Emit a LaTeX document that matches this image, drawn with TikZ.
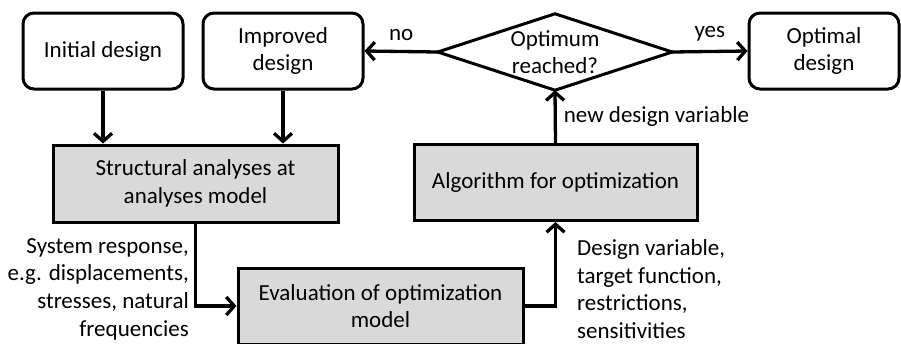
\documentclass[tikz,border=0pt]{standalone}
\usepackage{fontspec}
\setmainfont{Carlito}
\usetikzlibrary{arrows.meta}
\definecolor{boxgray}{HTML}{D9D9D9}
\begin{document}
\begin{tikzpicture}[x=1pt,y=-1pt,
  every node/.style={font=\fontsize{23}{27.7}\selectfont, align=center, inner sep=0pt},
  roundbox/.style={draw, line width=3pt, rounded corners=11pt, fill=white},
  graybox/.style={draw, line width=3pt, fill=boxgray},
  arr/.style={line width=3.3pt, -{Straight Barb[length=8pt,width=18pt]}},
  conn/.style={line width=3pt}
]
\useasboundingbox (0,0) rectangle (901,343);

\node[roundbox, minimum width=160, minimum height=76] (init) at (103,51) {Initial design};
\node[roundbox, minimum width=160, minimum height=76] (impr) at (283,51) {Improved\\design};
\node[roundbox, minimum width=150, minimum height=76] (opt) at (824,51) {Optimal\\design};
\node[minimum width=234, minimum height=76] (dec) at (555,52) {Optimum\\reached?};
\draw[conn, line join=miter] (dec.west) -- (dec.north) -- (dec.east) -- (dec.south) -- cycle;

\node[graybox, minimum width=285, minimum height=77] (struct) at (195.5,183.5) {Structural analyses at\\analyses model};
\node[graybox, minimum width=283, minimum height=76] (alg) at (555.5,182.5) {Algorithm for optimization};
\node[graybox, minimum width=285, minimum height=76] (eval) at (380.5,306) {Evaluation of optimization\\model};

\draw[arr] (init.south) -- (init.south |- struct.north);
\draw[arr] (impr.south) -- (impr.south |- struct.north);
\draw[arr] (dec.west) -- (impr.east) node[pos=0.5, above=9pt] (no) {no};
\draw[arr] (dec.east) -- (opt.west) node[pos=0.5, above=9pt] (yes) {yes};
\draw[arr] (alg.north) -- (dec.south) node[pos=0.5, right=7pt] (newdv) {new design variable};
\draw[arr] (struct.south) |- (eval.west);
\draw[arr] (eval.east) -| (alg.south);

\node[align=right, anchor=east] (sysresp) at (189,289) {System response,\\e.g. displacements,\\stresses, natural\\frequencies};
\node[align=left, anchor=west] (desvar) at (577,289) {Design variable,\\target function,\\restrictions,\\sensitivities};
\end{tikzpicture}
\end{document}
